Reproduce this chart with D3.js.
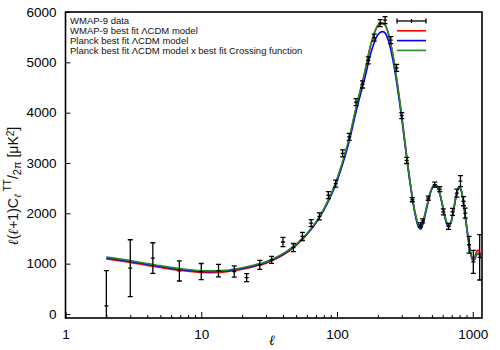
<!DOCTYPE html>
<html>
<head>
<meta charset="utf-8">
<script src="https://cdn.jsdelivr.net/npm/d3@7"></script>
<style>
  body { margin: 0; background: #fff; }
  svg { font-family: "Liberation Sans", Arial, sans-serif; }
</style>
</head>
<body>
<div id="chart"></div>
<script>
// WMAP-9 binned TT points (multipole, D_ell, error)
var dataEll = [2, 3, 4.4, 6.9, 10, 13.4, 17.5, 21.6, 27, 33, 40, 47.7, 55.6, 64.5, 74.2, 86.4, 97.8,
               110, 123, 138, 154, 170, 188, 208, 226, 249, 275, 300, 326, 359, 412, 428, 470, 525,
               572, 607, 662, 710, 763, 812, 855, 880, 940, 1010, 1125];
var dataVal = [160, 910, 1110, 855, 843, 862, 843, 723, 976, 1076, 1430, 1320, 1540, 1805, 1940, 2360, 2590,
               3190, 3520, 4210, 4560, 5040, 5490, 5780, 5840, 5440, 4890, 3940, 3050, 2270, 1770, 1850, 2300, 2570,
               2480, 2030, 1740, 2030, 2400, 2640, 2240, 2005, 1375, 1035, 1125];
var dataErr = [700, 565, 305, 200, 160, 125, 112, 80, 90, 70, 90, 80, 80, 70, 70, 70, 70,
               70, 70, 70, 70, 70, 70, 70, 70, 70, 70, 60, 60, 40, 40, 40, 40, 50,
               50, 60, 60, 70, 80, 110, 90, 100, 165, 230, 450];

// model curves
var modelEll = [2, 3, 4, 5, 7, 10, 15, 20, 25, 30, 40, 50, 60, 70, 80, 90, 100, 120, 140, 160, 180, 200, 215,
                225, 240, 260, 280, 300, 325, 350, 375, 400, 415, 430, 460, 490, 520, 540, 560, 590, 620, 650,
                670, 690, 720, 750, 780, 800, 820, 850, 880, 910, 940, 970, 1000, 1030, 1060, 1090, 1120, 1160];
var wmapModel = [1095, 1025, 965, 925, 865, 825, 835, 890, 950, 1010, 1170, 1365, 1580, 1815, 2080, 2360, 2670,
                 3370, 4160, 4800, 5410, 5720, 5770, 5740, 5550, 5100, 4530, 3930, 3170, 2520, 2030, 1760, 1730,
                 1830, 2150, 2440, 2570, 2560, 2480, 2250, 1980, 1790, 1760, 1820, 2050, 2320, 2500, 2530, 2480,
                 2260, 1960, 1660, 1390, 1190, 1090, 1120, 1220, 1270, 1230, 1130];
var planckModel = [1115, 1045, 985, 945, 885, 845, 855, 905, 965, 1025, 1185, 1375, 1585, 1810, 2065, 2340, 2640,
                   3320, 4080, 4680, 5240, 5550, 5610, 5590, 5420, 5000, 4460, 3880, 3130, 2490, 2000, 1720, 1690,
                   1790, 2120, 2420, 2550, 2540, 2460, 2230, 1950, 1760, 1730, 1800, 2030, 2300, 2480, 2510, 2460,
                   2240, 1940, 1640, 1370, 1170, 1070, 1080, 1160, 1200, 1170, 1100];
var crossingModel = [1130, 1060, 1000, 960, 900, 860, 870, 920, 980, 1040, 1200, 1390, 1600, 1830, 2090, 2370, 2680,
                     3380, 4170, 4800, 5420, 5740, 5790, 5760, 5560, 5100, 4530, 3930, 3170, 2520, 2030, 1760, 1730,
                     1830, 2150, 2440, 2570, 2560, 2480, 2250, 1980, 1790, 1760, 1820, 2050, 2320, 2500, 2530, 2480,
                     2260, 1960, 1660, 1390, 1180, 1080, 1090, 1170, 1210, 1180, 1110];

var xTicks = [1, 10, 100, 1000];
var yTicks = [0, 1000, 2000, 3000, 4000, 5000, 6000];
var legendLabels = ["WMAP-9 data", "WMAP-9 best fit \u039BCDM model", "Planck best fit \u039BCDM model",
                    "Planck best fit \u039BCDM model x best fit Crossing function"];
var curveColors = ["#ff0000", "#0000ff", "#228b22"];

(function () {
    var W = 500, H = 350;
    var margin = {left: 65.5, right: 482, top: 12, bottom: 318};

    var svg = d3.select("#chart").append("svg")
        .attr("width", W)
        .attr("height", H);

    var x = d3.scaleLog().domain([1, 1170]).range([margin.left, margin.right]);
    var y = d3.scaleLinear().domain([-80, 6000]).range([margin.bottom, margin.top]);

    svg.append("clipPath").attr("id", "plotClip")
      .append("rect")
        .attr("x", margin.left).attr("y", margin.top)
        .attr("width", margin.right - margin.left).attr("height", margin.bottom - margin.top);

    // minor ticks on the log axis (inward)
    var minor = [];
    [1, 10, 100, 1000].forEach(function(d){
        for (var k = 2; k <= 9; k++) { if (d * k < 1170) minor.push(d * k); }
    });
    svg.append("g")
        .attr("transform", "translate(0," + margin.bottom + ")")
        .call(d3.axisBottom(x).tickValues(minor).tickSize(-3).tickFormat(""))
        .call(function(g){ g.select(".domain").remove(); });

    // major x ticks
    svg.append("g")
        .attr("transform", "translate(0," + margin.bottom + ")")
        .call(d3.axisBottom(x).tickValues(xTicks).tickSizeInner(-6).tickSizeOuter(0).tickPadding(11)
              .tickFormat(d3.format("d")))
        .call(function(g){
            g.select(".domain").remove();
            g.selectAll("text").style("font-size", "13.5px").attr("fill", "#000");
        });

    // y ticks
    svg.append("g")
        .attr("transform", "translate(" + margin.left + ",0)")
        .call(d3.axisLeft(y).tickValues(yTicks).tickSizeInner(-5).tickSizeOuter(0).tickPadding(9)
              .tickFormat(d3.format("d")))
        .call(function(g){
            g.select(".domain").remove();
            g.selectAll("text").style("font-size", "13.5px").attr("fill", "#000");
        });

    // frame
    svg.append("rect")
        .attr("x", margin.left).attr("y", margin.top)
        .attr("width", margin.right - margin.left).attr("height", margin.bottom - margin.top)
        .attr("fill", "none")
        .attr("stroke", "#000")
        .attr("stroke-width", 1.6);

    // model curves
    var line = d3.line()
        .x(function(d){ return x(d[0]); })
        .y(function(d){ return y(d[1]); })
        .curve(d3.curveCatmullRom.alpha(0.5));

    var plot = svg.append("g").attr("clip-path", "url(#plotClip)");

    [wmapModel, planckModel, crossingModel].forEach(function(vals, i){
        plot.append("path")
            .datum(modelEll.map(function(l, j){ return [l, vals[j]]; }))
            .attr("d", line)
            .attr("fill", "none")
            .attr("stroke", curveColors[i])
            .attr("stroke-width", 1.6);
    });

    // data points with error bars
    var pts = dataEll.map(function(l, i){ return {l: l, v: dataVal[i], e: dataErr[i]}; });
    var bars = plot.selectAll(".pt").data(pts).enter().append("g").attr("class", "pt")
        .attr("stroke", "#000").attr("stroke-width", 1.3);
    bars.append("line")
        .attr("x1", function(d){ return x(d.l); }).attr("x2", function(d){ return x(d.l); })
        .attr("y1", function(d){ return y(d.v - d.e); }).attr("y2", function(d){ return y(d.v + d.e); });
    bars.append("line")
        .attr("x1", function(d){ return x(d.l) - 2.5; }).attr("x2", function(d){ return x(d.l) + 2.5; })
        .attr("y1", function(d){ return y(d.v - d.e); }).attr("y2", function(d){ return y(d.v - d.e); });
    bars.append("line")
        .attr("x1", function(d){ return x(d.l) - 2.5; }).attr("x2", function(d){ return x(d.l) + 2.5; })
        .attr("y1", function(d){ return y(d.v + d.e); }).attr("y2", function(d){ return y(d.v + d.e); });
    bars.append("line")
        .attr("x1", function(d){ return x(d.l) - 2; }).attr("x2", function(d){ return x(d.l) + 2; })
        .attr("y1", function(d){ return y(d.v); }).attr("y2", function(d){ return y(d.v); });

    // legend
    var legend = svg.append("g");
    legendLabels.forEach(function(t, i){
        var ly = 21 + i * 9.8;
        legend.append("text")
            .attr("x", 70).attr("y", ly + 3.3)
            .style("font-size", "9.5px")
            .attr("fill", "#111")
            .text(t);
        if (i === 0) {
            var g = legend.append("g").attr("stroke", "#000").attr("stroke-width", 1.3);
            g.append("line").attr("x1", 397).attr("x2", 426).attr("y1", ly).attr("y2", ly);
            g.append("line").attr("x1", 397).attr("x2", 397).attr("y1", ly - 2.5).attr("y2", ly + 2.5);
            g.append("line").attr("x1", 426).attr("x2", 426).attr("y1", ly - 2.5).attr("y2", ly + 2.5);
            g.append("line").attr("x1", 411.5).attr("x2", 411.5).attr("y1", ly - 2).attr("y2", ly + 2);
        } else {
            legend.append("line")
                .attr("x1", 397).attr("x2", 426).attr("y1", ly).attr("y2", ly)
                .attr("stroke", curveColors[i - 1]).attr("stroke-width", 1.6);
        }
    });

    // axis titles
    svg.append("text")
        .attr("x", 272).attr("y", 345)
        .attr("text-anchor", "middle")
        .style("font-size", "14px")
        .style("font-style", "italic")
        .style("font-family", "DejaVu Serif, serif")
        .text("\u2113");

    var yl = svg.append("text")
        .attr("transform", "translate(18,186) rotate(-90)")
        .attr("text-anchor", "middle")
        .style("font-size", "14px")
        .attr("fill", "#111");
    yl.append("tspan").style("font-family", "DejaVu Serif, serif").style("font-style", "italic").text("\u2113");
    yl.append("tspan").text("(");
    yl.append("tspan").style("font-family", "DejaVu Serif, serif").style("font-style", "italic").text("\u2113");
    yl.append("tspan").text("+1)C");
    yl.append("tspan").attr("dy", 3).style("font-size", "10px").style("font-family", "DejaVu Serif, serif")
        .style("font-style", "italic").text("\u2113");
    yl.append("tspan").attr("dy", -10).style("font-size", "10px").text(" TT");
    yl.append("tspan").attr("dy", 7).text("/");
    yl.append("tspan").attr("dy", 3).style("font-size", "11px").text("2\u03C0");
    yl.append("tspan").attr("dy", -3).text(" [\u03BCK");
    yl.append("tspan").attr("dy", -4).style("font-size", "10px").text("2");
    yl.append("tspan").attr("dy", 4).text("]");
})();
</script>
</body>
</html>
